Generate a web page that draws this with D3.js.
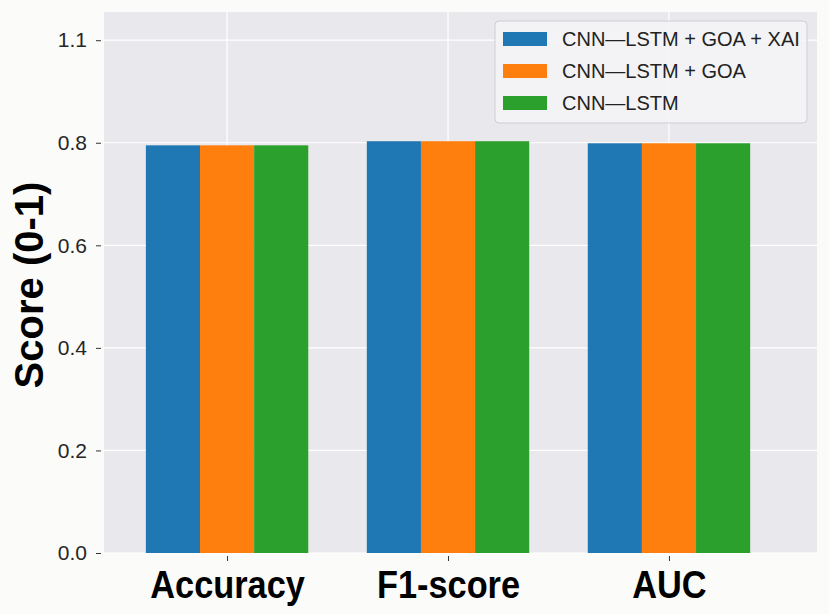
<!DOCTYPE html>
<meta charset="utf-8">
<style>
    body { margin: 0; background: #fbfbf9; }
    svg { display: block; }
    .ytick text { font-family: "Liberation Sans", Arial, sans-serif; font-size: 21px; fill: #262626; }
    .xlab { font-family: "Liberation Sans", Arial, sans-serif; font-size: 39px; font-weight: bold; fill: #000; }
    .legend text { font-family: "Liberation Sans", Arial, sans-serif; font-size: 20px; fill: #222; }
</style>
<body>
<div id="chart"></div>
<script src="https://cdn.jsdelivr.net/npm/d3@7"></script>
<script>
    // data
    var metrics = ["Accuracy", "F1-score", "AUC"];
    var models = ["CNN\u2014LSTM + GOA + XAI", "CNN\u2014LSTM + GOA", "CNN\u2014LSTM"];
    var xaiScores = [0.795, 0.803, 0.799];
    var goaScores = [0.795, 0.803, 0.799];
    var baseScores = [0.795, 0.803, 0.799];
    var yTicks = [0, 0.2, 0.4, 0.6, 0.8, 1.0];
    var yTickLabels = ["0.0", "0.2", "0.4", "0.6", "0.8", "1.1"];
    var colors = ["#1f77b4", "#ff7f0e", "#2ca02c"];

    var series = [xaiScores, goaScores, baseScores];

    var W = 829, H = 614;
    var plot = { left: 104, right: 817, top: 12, bottom: 553 };

    var svg = d3.select("#chart").append("svg")
        .attr("width", W)
        .attr("height", H);

    var x = d3.scaleLinear().domain([-0.557, 2.67]).range([plot.left, plot.right]);
    var y = d3.scaleLinear().domain([0, 1.055]).range([plot.bottom, plot.top]);
    var barW = 0.245;

    // background
    svg.append("rect")
        .attr("x", plot.left).attr("y", plot.top)
        .attr("width", plot.right - plot.left)
        .attr("height", plot.bottom - plot.top)
        .attr("fill", "#e9e9ed");

    // grid
    svg.selectAll(".hgrid").data(yTicks).enter().append("line")
        .attr("x1", plot.left).attr("x2", plot.right)
        .attr("y1", function (d) { return y(d); })
        .attr("y2", function (d) { return y(d); })
        .attr("stroke", "#fff").attr("stroke-width", 1.2);
    svg.selectAll(".vgrid").data(metrics).enter().append("line")
        .attr("y1", plot.top).attr("y2", plot.bottom)
        .attr("x1", function (d, i) { return x(i); })
        .attr("x2", function (d, i) { return x(i); })
        .attr("stroke", "#fff").attr("stroke-width", 1.2);

    // bars
    series.forEach(function (vals, s) {
        svg.append("g").selectAll("rect").data(vals).enter().append("rect")
            .attr("x", function (d, i) { return x(i + (s - 1.5) * barW); })
            .attr("width", x(barW) - x(0))
            .attr("y", function (d) { return y(d); })
            .attr("height", function (d) { return y(0) - y(d); })
            .attr("fill", colors[s]);
    });

    // y axis
    var yAxis = d3.axisLeft(y)
        .tickValues(yTicks)
        .tickFormat(function (d, i) { return yTickLabels[i]; })
        .tickSize(5)
        .tickPadding(9);
    var ya = svg.append("g")
        .attr("class", "ytick")
        .attr("transform", "translate(" + (plot.left - 3) + ",0)")
        .call(yAxis);
    ya.select(".domain").remove();
    ya.selectAll("line").attr("stroke", "#333");

    // x axis
    var xAxis = d3.axisBottom(x)
        .tickValues(d3.range(metrics.length))
        .tickFormat(function (d) { return metrics[d]; })
        .tickSize(5)
        .tickPadding(7);
    var xa = svg.append("g")
        .attr("transform", "translate(0," + (plot.bottom + 3) + ")")
        .call(xAxis);
    xa.select(".domain").remove();
    xa.selectAll("line").attr("stroke", "#333");
    // labels are narrow and tall in the reference
    xa.selectAll("text")
        .attr("class", "xlab")
        .attr("font-size", null).attr("font-family", null)
        .attr("y", 42).attr("dy", null)
        .attr("transform", "scale(0.88,1)");

    // y label
    svg.append("text")
        .attr("transform", "translate(43,285) rotate(-90)")
        .attr("text-anchor", "middle")
        .style("font-family", "Liberation Sans, Arial, sans-serif")
        .style("font-size", "40px")
        .style("font-weight", "bold")
        .text("Score (0-1)");

    // legend
    var lg = svg.append("g").attr("class", "legend").attr("transform", "translate(495,21)");
    lg.append("rect")
        .attr("width", 312).attr("height", 102)
        .attr("rx", 4)
        .attr("fill", "#f4f4f6").attr("fill-opacity", 0.9)
        .attr("stroke", "#cfcfd3");
    var rows = lg.selectAll(".row").data(models).enter().append("g")
        .attr("transform", function (d, i) { return "translate(0," + (18 + i * 32) + ")"; });
    rows.append("rect")
        .attr("x", 8).attr("y", -7).attr("width", 44).attr("height", 14)
        .attr("fill", function (d, i) { return colors[i]; });
    rows.append("text")
        .attr("x", 67).attr("dy", "0.35em")
        .text(function (d) { return d; });
</script>
</body>
